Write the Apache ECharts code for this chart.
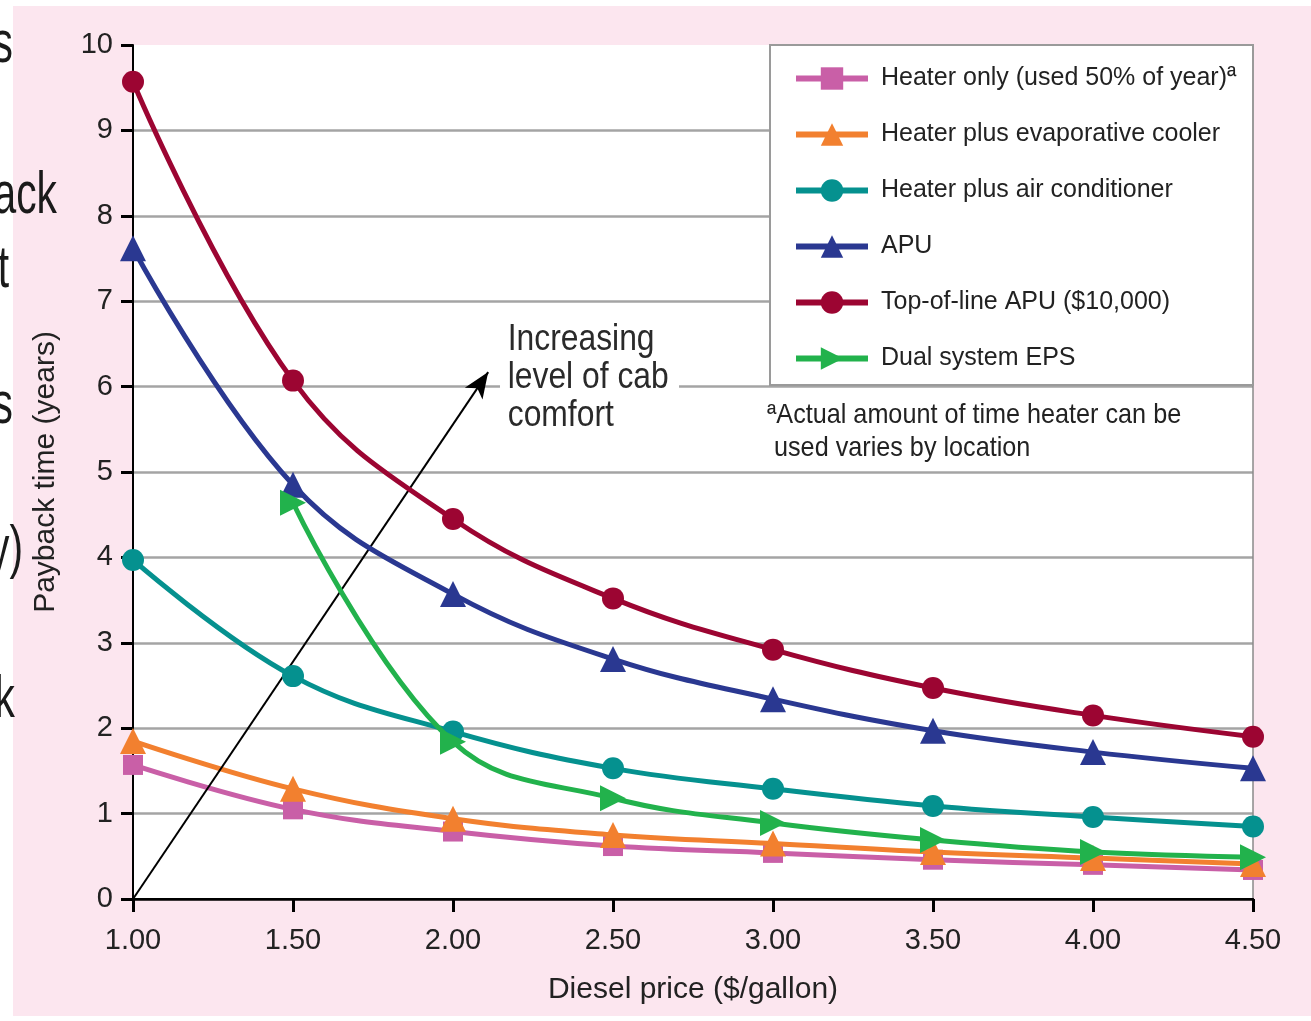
<!DOCTYPE html>
<html><head><meta charset="utf-8">
<script src="https://cdn.jsdelivr.net/npm/echarts@6/dist/echarts.min.js"></script>
<style>html,body{margin:0;padding:0;background:#fff;overflow:hidden}#c{width:1311px;height:1021px}</style>
</head><body><div id="c"></div>
<script>
// ---- data ----
const dieselPrice = [1.00, 1.50, 2.00, 2.50, 3.00, 3.50, 4.00, 4.50];
const heaterOnly  = [1.57, 1.05, 0.79, 0.62, 0.54, 0.46, 0.40, 0.34];
const evapCooler  = [1.85, 1.29, 0.94, 0.75, 0.65, 0.55, 0.48, 0.41];
const airCond     = [3.97, 2.61, 1.96, 1.53, 1.29, 1.09, 0.96, 0.85];
const apu         = [7.62, 4.85, 3.57, 2.81, 2.34, 1.97, 1.72, 1.53];
const topApu      = [9.57, 6.07, 4.45, 3.52, 2.92, 2.47, 2.15, 1.90];
const dualEps     = [null, 4.64, 1.84, 1.18, 0.89, 0.69, 0.55, 0.49];
const seriesNames = [
  'Heater only (used 50% of year)\u00aa',
  'Heater plus evaporative cooler',
  'Heater plus air conditioner',
  'APU',
  'Top-of-line APU ($10,000)',
  'Dual system EPS'
];
const arrowFrom = [1.00, 0];
const arrowTo   = [2.11, 6.17];
const annotationLines = ['Increasing', 'level of cab', 'comfort'];
const footnoteLines = ['\u00aaActual amount of time heater can be', ' used varies by location'];
const sideFragments = ['s', 'ack', 't', 's', 'y)', 'k'];

// ---- styling ----
const SANS = "'Liberation Sans', Arial, sans-serif";
const colors = ['#c95fa7', '#f2802f', '#05918f', '#2a3891', '#9c0532', '#22b24c'];
const symbols = ['rect', 'triangle', 'circle', 'triangle', 'circle', 'triangle'];
const symbolSizes = [20, 26, 22, 26, 22, 26];
const rotations = [0, 0, 0, 0, 0, -90];
const smoothness = [0.4, 0.4, 0.4, 0.4, 0.4, 0.4];
const values = [heaterOnly, evapCooler, airCond, apu, topApu, dualEps];

const series = values.map((vals, i) => ({
  name: seriesNames[i],
  type: 'line',
  smooth: smoothness[i],
  clip: false,
  connectNulls: false,
  data: dieselPrice.map((p, j) => [p, vals[j]]),
  symbol: symbols[i],
  symbolSize: symbolSizes[i],
  symbolRotate: rotations[i],
  showAllSymbol: true,
  lineStyle: { color: colors[i], width: 5 },
  itemStyle: { color: colors[i] },
  z: 3 + i
}));

// arrow annotation
series[0].markLine = {
  silent: true,
  symbol: ['none', 'arrow'],
  symbolSize: [16, 26],
  label: { show: false },
  lineStyle: { color: '#000', width: 2, type: 'solid' },
  data: [[{ coord: arrowFrom }, { coord: arrowTo }]]
};

const fragPos = [[13, 75], [57, 226], [9, 300], [13, 436], [23, 580], [15, 730]];
const graphics = [
  { type: 'rect', z: -5, silent: true, shape: { x: 13, y: 6, width: 1311, height: 1010 }, style: { fill: '#fce6ef' } },
  { type: 'rect', z: 1, silent: true, shape: { x: 770, y: 45, width: 483, height: 340 }, style: { fill: '#fff', stroke: '#9a9a9a', lineWidth: 2 } },
  { type: 'text', z: 5, x: 500, y: 320, scaleX: 0.86, style: {
      text: annotationLines.join('\n'), font: '37px ' + SANS, fill: '#2a2a2a',
      lineHeight: 38, backgroundColor: '#fff', padding: [1, 12, 1, 9] } },
  { type: 'text', z: 5, x: 767, y: 399, scaleX: 0.9, style: {
      text: footnoteLines.join('\n'), font: '28px ' + SANS, fill: '#222', lineHeight: 33 } }
];
sideFragments.forEach((t, i) => {
  graphics.push({ type: 'text', z: 10, x: fragPos[i][0], y: fragPos[i][1], scaleX: 0.68, style: {
    text: t, font: '60px ' + SANS, fill: '#1a1a1a', align: 'right', verticalAlign: 'bottom' } });
});

const chart = echarts.init(document.getElementById('c'), null, { renderer: 'canvas' });
chart.setOption({
  backgroundColor: '#ffffff',
  animation: false,
  color: colors,
  grid: { left: 133, right: 58, top: 45, bottom: 122, show: true, backgroundColor: '#ffffff', borderWidth: 0 },
  legend: {
    orient: 'vertical', left: 793, top: 66, padding: 0,
    itemWidth: 72, itemHeight: 28, itemGap: 31,
    lineStyle: { width: 6 },
    textStyle: { fontFamily: SANS, fontSize: 25, color: '#222', padding: [0, 0, 0, 8] },
    data: seriesNames
  },
  xAxis: [{
    type: 'value', min: 1, max: 4.5, interval: 0.5,
    name: 'Diesel price ($/gallon)', nameLocation: 'middle', nameGap: 76,
    nameTextStyle: { fontFamily: SANS, fontSize: 30, color: '#222' },
    axisLine: { lineStyle: { color: '#000', width: 2 } },
    axisTick: { show: true, length: 13, lineStyle: { color: '#000', width: 3 } },
    axisLabel: { margin: 27, fontFamily: SANS, fontSize: 29, color: '#222', formatter: v => v.toFixed(2) },
    splitLine: { show: false }
  }, {
    type: 'value', position: 'top', min: 1, max: 4.5, interval: 0.5,
    axisLine: { lineStyle: { color: '#000', width: 2.5 } },
    axisTick: { show: false }, axisLabel: { show: false }, splitLine: { show: false }
  }],
  yAxis: [{
    type: 'value', min: 0, max: 10, interval: 1,
    name: 'Payback time (years)', nameLocation: 'middle', nameGap: 72,
    nameTextStyle: { fontFamily: SANS, fontSize: 30, color: '#222' },
    axisLine: { show: true, lineStyle: { color: '#000', width: 2 } },
    axisTick: { show: true, length: 12, lineStyle: { color: '#000', width: 3 } },
    axisLabel: { margin: 20, fontFamily: SANS, fontSize: 29, color: '#222' },
    splitLine: { show: true, showMinLine: false, showMaxLine: false, lineStyle: { color: '#a4a4a4', width: 2.5 } }
  }, {
    type: 'value', position: 'right', min: 0, max: 10, interval: 1,
    axisLine: { show: true, lineStyle: { color: '#8a8a8a', width: 1.5 } },
    axisTick: { show: false }, axisLabel: { show: false }, splitLine: { show: false }
  }],
  graphic: { elements: graphics },
  series: series
});
</script></body></html>
